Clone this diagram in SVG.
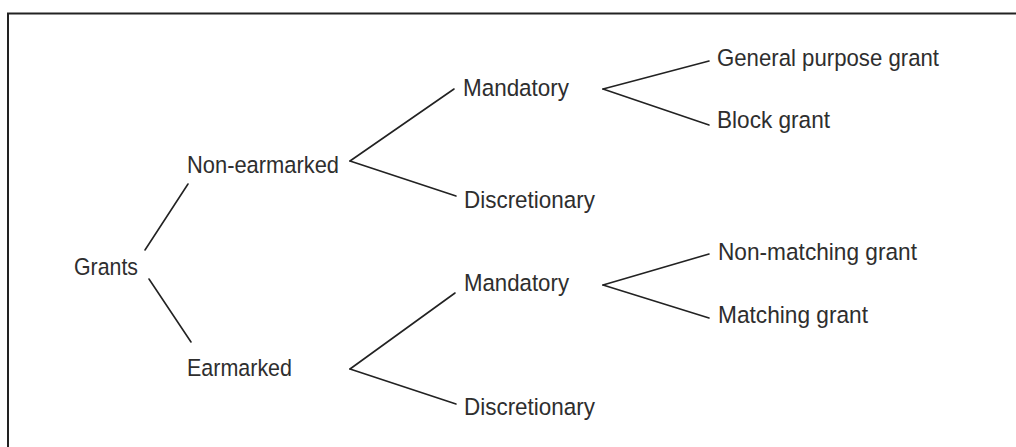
<svg xmlns="http://www.w3.org/2000/svg" width="1016" height="447" viewBox="0 0 1016 447">
<style>
.t{font-family:"Liberation Sans",Arial,sans-serif;font-size:24.5px;fill:#2e2e2e}
.c line{stroke:#222;stroke-width:1.6;stroke-linecap:round}
</style>
<rect x="0" y="0" width="1016" height="447" fill="#fff"/>
<rect x="8" y="13.5" width="1030" height="460" fill="none" stroke="#222" stroke-width="2"/>
<g class="c" id="connectors">
<line x1="145" y1="250" x2="188" y2="184"/>
<line x1="149" y1="279" x2="191" y2="342"/>
<line x1="454" y1="89" x2="350" y2="161"/>
<line x1="350" y1="161" x2="456" y2="196"/>
<line x1="455" y1="293" x2="350" y2="369"/>
<line x1="350" y1="369" x2="456" y2="404"/>
<line x1="709" y1="61" x2="603" y2="89"/>
<line x1="603" y1="89" x2="709" y2="125"/>
<line x1="709" y1="254" x2="603" y2="285"/>
<line x1="603" y1="285" x2="709" y2="318"/>
</g>
<g id="grants"><text class="t" x="74" y="275" textLength="64" lengthAdjust="spacingAndGlyphs">Grants</text></g>
<g id="non-earmarked"><text class="t" x="187" y="173" textLength="152" lengthAdjust="spacingAndGlyphs">Non-earmarked</text></g>
<g id="earmarked"><text class="t" x="187" y="376" textLength="105" lengthAdjust="spacingAndGlyphs">Earmarked</text></g>
<g id="mandatory-1"><text class="t" x="463" y="96" textLength="106" lengthAdjust="spacingAndGlyphs">Mandatory</text></g>
<g id="discretionary-1"><text class="t" x="464" y="208" textLength="131" lengthAdjust="spacingAndGlyphs">Discretionary</text></g>
<g id="mandatory-2"><text class="t" x="464" y="291" textLength="105" lengthAdjust="spacingAndGlyphs">Mandatory</text></g>
<g id="discretionary-2"><text class="t" x="464" y="415" textLength="131" lengthAdjust="spacingAndGlyphs">Discretionary</text></g>
<g id="general-purpose-grant"><text class="t" x="717" y="66" textLength="222" lengthAdjust="spacingAndGlyphs">General purpose grant</text></g>
<g id="block-grant"><text class="t" x="717" y="128" textLength="113" lengthAdjust="spacingAndGlyphs">Block grant</text></g>
<g id="non-matching-grant"><text class="t" x="718" y="260" textLength="199" lengthAdjust="spacingAndGlyphs">Non-matching grant</text></g>
<g id="matching-grant"><text class="t" x="718" y="323" textLength="150" lengthAdjust="spacingAndGlyphs">Matching grant</text></g>
</svg>
